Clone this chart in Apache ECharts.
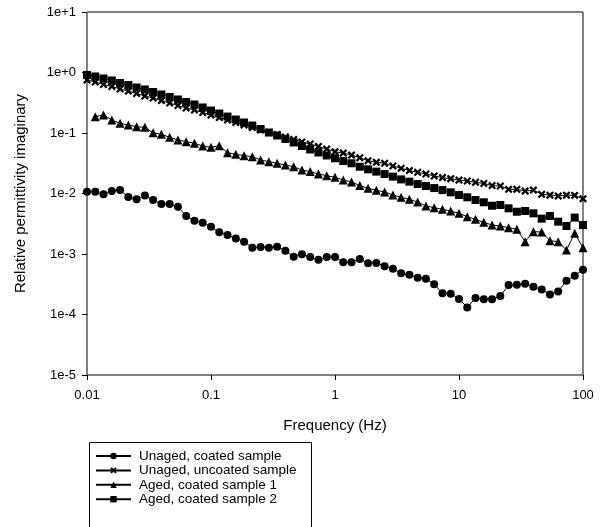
<!DOCTYPE html>
<html>
<head>
<meta charset="utf-8">
<script src="https://cdn.jsdelivr.net/npm/echarts@6/dist/echarts.min.js"></script>
<style>
  html, body { margin: 0; padding: 0; background: #fff; }
  #chart { width: 601px; height: 527px; }
</style>
</head>
<body>
<div id="chart"></div>
<script>
// frequencies (Hz), 15 points per decade
const freq = [
  0.01, 0.01166, 0.01359, 0.01585, 0.01848, 0.02154, 0.02512, 0.02929, 0.03415, 0.03981, 0.04642, 0.05412, 0.0631, 0.07356, 0.08577,
  0.1, 0.1166, 0.1359, 0.1585, 0.1848, 0.2154, 0.2512, 0.2929, 0.3415, 0.3981, 0.4642, 0.5412, 0.631, 0.7356, 0.8577,
  1, 1.166, 1.359, 1.585, 1.848, 2.154, 2.512, 2.929, 3.415, 3.981, 4.642, 5.412, 6.31, 7.356, 8.577,
  10, 11.66, 13.59, 15.85, 18.48, 21.54, 25.12, 29.29, 34.15, 39.81, 46.42, 54.12, 63.1, 73.56, 85.77, 100
];

const unagedCoated = [
  0.0107, 0.0107, 0.0097, 0.011, 0.0114, 0.00875, 0.0080, 0.0093, 0.0078, 0.0067, 0.0067, 0.00605, 0.00425, 0.00355, 0.00329,
  0.00282, 0.00228, 0.00206, 0.00181, 0.0016, 0.00127, 0.00131, 0.00127, 0.00132, 0.00113, 0.0009, 0.00099, 0.00089, 0.0008, 0.00089,
  0.00089, 0.00073, 0.00073, 0.00083, 0.0007, 0.00071, 0.00063, 0.00057, 0.00048, 0.000455, 0.000406, 0.00039, 0.000315, 0.000224, 0.000221,
  0.00018, 0.000131, 0.000188, 0.000178, 0.000178, 0.000202, 0.000307, 0.00031, 0.000323, 0.000288, 0.00026, 0.000215, 0.000241, 0.000362, 0.000438, 0.00055
];

const unagedUncoated = [
  0.752, 0.697, 0.633, 0.587, 0.534, 0.494, 0.450, 0.409, 0.379, 0.344, 0.313, 0.285, 0.259, 0.240, 0.218,
  0.198, 0.180, 0.164, 0.149, 0.1356, 0.1233, 0.1121, 0.1019, 0.0945, 0.0859, 0.0781, 0.0710, 0.0658, 0.0598, 0.0544,
  0.0491, 0.0465, 0.0432, 0.039, 0.0349, 0.0328, 0.0316, 0.0285, 0.0261, 0.0239, 0.0224, 0.021, 0.0195, 0.0183, 0.0176,
  0.0167, 0.0161, 0.0153, 0.0147, 0.0135, 0.0133, 0.0117, 0.0117, 0.011, 0.0114, 0.0097, 0.0094, 0.0091, 0.0094, 0.0093, 0.0082
];

const agedCoated1 = [
  null, 0.186, 0.199, 0.164, 0.1445, 0.1355, 0.127, 0.124, 0.101, 0.095, 0.085, 0.0766, 0.072, 0.0675, 0.061,
  0.058, 0.0616, 0.0472, 0.0445, 0.0422, 0.0406, 0.0358, 0.0336, 0.0316, 0.0296, 0.0277, 0.0244, 0.023, 0.021, 0.0197,
  0.0185, 0.0167, 0.0155, 0.0135, 0.0122, 0.01128, 0.0106, 0.00944, 0.00865, 0.008, 0.00724, 0.0062, 0.00583, 0.00548, 0.00514,
  0.0047, 0.00414, 0.00374, 0.00334, 0.00301, 0.0029, 0.00272, 0.00256, 0.0016, 0.00234, 0.00231, 0.00166, 0.0016, 0.00116, 0.0022, 0.00127
];

const agedCoated2 = [
  0.909, 0.859, 0.796, 0.738, 0.671, 0.621, 0.565, 0.524, 0.476, 0.433, 0.394, 0.358, 0.325, 0.296, 0.264,
  0.235, 0.210, 0.187, 0.167, 0.149, 0.133, 0.1164, 0.1019, 0.0909, 0.0796, 0.0697, 0.061, 0.0534, 0.0476, 0.0425,
  0.0382, 0.0344, 0.0316, 0.0277, 0.0251, 0.023, 0.021, 0.019, 0.0171, 0.0157, 0.01435, 0.0133, 0.0123, 0.0114, 0.01045,
  0.00944, 0.00865, 0.0078, 0.00715, 0.00628, 0.00645, 0.00569, 0.005, 0.00514, 0.0047, 0.00384, 0.00425, 0.00342, 0.0029, 0.004, 0.00301
];

const seriesNames = [
  'Unaged, coated sample',
  'Unaged, uncoated sample',
  'Aged, coated sample 1',
  'Aged, coated sample 2'
];

// X marker for the uncoated sample
const crossSymbol = 'path://M0,2 L2,0 L5,3 L8,0 L10,2 L7,5 L10,8 L8,10 L5,7 L2,10 L0,8 L3,5 Z';

const toPairs = (vals) => freq.map((f, i) => [f, vals[i]]).filter(p => p[1] != null);

const makeSeries = (name, vals, symbol, size) => ({
  name: name,
  type: 'line',
  data: toPairs(vals),
  symbol: symbol,
  symbolSize: size,
  showAllSymbol: true,
  lineStyle: { color: '#000', width: 1 },
  itemStyle: { color: '#000', borderWidth: 0 },
  emphasis: { disabled: true },
  animation: false
});

const font = 'Liberation Sans, Arial, sans-serif';

const chart = echarts.init(document.getElementById('chart'), null, { renderer: 'canvas' });

chart.setOption({
  backgroundColor: '#fff',
  animation: false,
  grid: {
    left: 87, right: 18, top: 12, bottom: 152,
    show: true, borderColor: '#000', borderWidth: 1, backgroundColor: 'transparent'
  },
  xAxis: {
    type: 'log',
    logBase: 10,
    min: 0.01,
    max: 100,
    name: 'Frequency (Hz)',
    nameLocation: 'middle',
    nameGap: 43,
    nameTextStyle: { fontFamily: font, fontSize: 15, color: '#000' },
    axisLine: { show: true, lineStyle: { color: '#808080', width: 1 } },
    axisTick: { show: true, inside: false, length: 5, lineStyle: { color: '#000' } },
    minorTick: { show: false },
    splitLine: { show: false },
    axisLabel: {
      margin: 14,
      fontFamily: font, fontSize: 13, color: '#000',
      formatter: (v) => String(parseFloat(v.toPrecision(3)))
    }
  },
  yAxis: {
    type: 'log',
    logBase: 10,
    min: 1e-5,
    max: 10,
    name: 'Relative permittivity imaginary',
    nameLocation: 'middle',
    nameGap: 59,
    nameTextStyle: { fontFamily: font, fontSize: 15, color: '#000' },
    axisLine: { show: true, lineStyle: { color: '#808080', width: 1 } },
    axisTick: { show: true, inside: false, length: 5, lineStyle: { color: '#000' } },
    minorTick: { show: false },
    splitLine: { show: false },
    axisLabel: {
      margin: 11,
      fontFamily: font, fontSize: 13, color: '#000',
      formatter: (v) => {
        const e = Math.round(Math.log10(v));
        return '1e' + (e >= 0 ? '+' : '') + e;
      }
    }
  },
  legend: {
    orient: 'vertical',
    left: 95,
    top: 449,
    itemWidth: 35,
    itemHeight: 8,
    itemGap: 0.4,
    padding: 0,
    selectedMode: false,
    textStyle: { fontFamily: font, fontSize: 13.5, color: '#000', lineHeight: 13, padding: [0, 0, 0, 3] },
    data: seriesNames
  },
  graphic: [{
    type: 'rect',
    left: 87,
    top: 440,
    shape: { width: 222, height: 100 },
    style: { fill: 'none', stroke: '#000', lineWidth: 1 },
    silent: true
  }],
  series: [
    makeSeries(seriesNames[0], unagedCoated, 'circle', 8),
    makeSeries(seriesNames[1], unagedUncoated, crossSymbol, 8),
    makeSeries(seriesNames[2], agedCoated1, 'triangle', 9),
    makeSeries(seriesNames[3], agedCoated2, 'rect', 8)
  ]
});
</script>
</body>
</html>
